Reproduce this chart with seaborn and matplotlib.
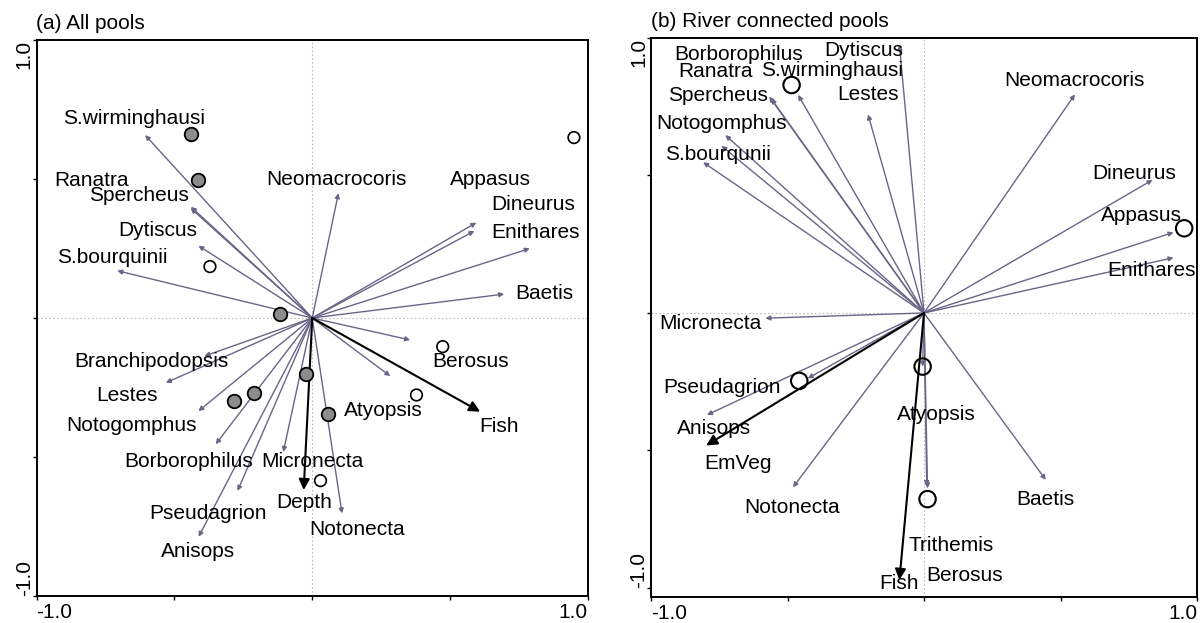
import matplotlib
matplotlib.use("Agg")
import matplotlib.pyplot as plt
import seaborn as sns
import pandas as pd

# ---------------- data: panel (a) All pools ----------------
a_species = ["S.wirminghausi", "Ranatra", "Spercheus", "Dytiscus", "S.bourquinii",
             "Neomacrocoris", "Appasus", "Dineurus", "Enithares", "Baetis",
             "Branchipodopsis", "Lestes", "Notogomphus", "Borborophilus", "Micronecta",
             "Pseudagrion", "Anisops", "Notonecta", "Atyopsis", "Berosus"]
a_sp_x = [-0.606, -0.44, -0.441, -0.413, -0.707,
          0.095, 0.595, 0.588, 0.789, 0.696,
          -0.391, -0.531, -0.413, -0.350, -0.105,
          -0.271, -0.412, 0.108, 0.283, 0.355]
a_sp_y = [0.658, 0.40, 0.395, 0.260, 0.170,
          0.449, 0.343, 0.313, 0.250, 0.086,
          -0.137, -0.233, -0.335, -0.454, -0.482,
          -0.622, -0.787, -0.703, -0.209, -0.079]
a_env = ["Depth", "Fish"]
a_env_x = [-0.031, 0.609]
a_env_y = [-0.619, -0.337]
a_site_x = [-0.441, -0.416, -0.118, -0.021, -0.213, -0.283, 0.058,
            -0.371, 0.949, 0.473, 0.378, 0.030]
a_site_y = [0.661, 0.496, 0.014, -0.201, -0.271, -0.299, -0.347,
            0.185, 0.649, -0.103, -0.277, -0.585]
a_site_type = ["filled"] * 7 + ["open"] * 5

# ---------------- data: panel (b) River connected pools ----------------
b_species = ["Dytiscus", "S.wirminghausi", "Spercheus", "Lestes", "Borborophilus",
             "Ranatra", "Notogomphus", "S.bourqunii", "Neomacrocoris", "Dineurus",
             "Appasus", "Enithares", "Micronecta", "Pseudagrion", "Anisops",
             "Notonecta", "Atyopsis", "Trithemis", "Berosus", "Baetis"]
b_sp_x = [-0.090, -0.461, -0.567, -0.205, -0.742,
          -0.560, -0.728, -0.809, 0.553, 0.837,
          0.914, 0.914, -0.581, -0.426, -0.795,
          -0.480, -0.005, 0.013, 0.010, 0.446]
b_sp_y = [0.975, 0.793, 0.787, 0.722, 0.608,
          0.780, 0.647, 0.548, 0.795, 0.484,
          0.293, 0.201, -0.019, -0.238, -0.371,
          -0.634, -0.195, -0.638, -0.630, -0.607]
b_env = ["EmVeg", "Fish"]
b_env_x = [-0.798, -0.090]
b_env_y = [-0.482, -0.971]
b_site_x = [-0.485, 0.953, -0.005, -0.457, 0.013]
b_site_y = [0.829, 0.308, -0.195, -0.247, -0.677]

# ---------------- label placement (layout) ----------------
a_lab_pos = {
    "S.wirminghausi": (-0.645, 0.718), "Ranatra": (-0.80, 0.496), "Spercheus": (-0.628, 0.442),
    "Dytiscus": (-0.562, 0.313), "S.bourquinii": (-0.724, 0.218), "Neomacrocoris": (0.089, 0.499),
    "Appasus": (0.648, 0.499), "Dineurus": (0.803, 0.41), "Enithares": (0.81, 0.308),
    "Baetis": (0.84, 0.089), "Branchipodopsis": (-0.585, -0.157), "Lestes": (-0.672, -0.277),
    "Notogomphus": (-0.656, -0.388), "Borborophilus": (-0.448, -0.517), "Micronecta": (-0.001, -0.517),
    "Pseudagrion": (-0.378, -0.705), "Anisops": (-0.413, -0.84), "Notonecta": (0.163, -0.759),
    "Atyopsis": (0.256, -0.333), "Berosus": (0.574, -0.157), "Depth": (-0.031, -0.664),
    "Fish": (0.678, -0.391)}
b_lab_pos = {
    "Dytiscus": (-0.219, 0.956), "S.wirminghausi": (-0.338, 0.88), "Spercheus": (-0.756, 0.79),
    "Lestes": (-0.206, 0.795), "Borborophilus": (-0.679, 0.941), "Ranatra": (-0.763, 0.877),
    "Notogomphus": (-0.742, 0.69), "S.bourqunii": (-0.756, 0.578), "Neomacrocoris": (0.552, 0.847),
    "Dineurus": (0.77, 0.508), "Appasus": (0.795, 0.354), "Enithares": (0.832, 0.154),
    "Micronecta": (-0.781, -0.04), "Pseudagrion": (-0.74, -0.27), "Anisops": (-0.769, -0.419),
    "Notonecta": (-0.483, -0.707), "Atyopsis": (0.044, -0.369), "Trithemis": (0.10, -0.847),
    "Berosus": (0.149, -0.956), "Baetis": (0.443, -0.68), "EmVeg": (-0.681, -0.549),
    "Fish": (-0.09, -0.985)}

sns.set_theme(style="white")
plt.rcParams["font.family"] = ["Liberation Sans", "DejaVu Sans"]
plt.rcParams["text.color"] = "black"
plt.rcParams["axes.labelcolor"] = "black"
plt.rcParams["xtick.color"] = "black"
plt.rcParams["ytick.color"] = "black"
plt.rcParams["axes.titlecolor"] = "black"

FS = 15
ARROW_C = "#6a6587"

fig = plt.figure(figsize=(12.03, 6.23), dpi=100)
W, H = 1203, 623
ax1 = fig.add_axes([36.5 / W, 1 - 596 / H, (588 - 36.5) / W, (596 - 40) / H])
ax2 = fig.add_axes([651 / W, 1 - 597 / H, (1197 - 651) / W, (597 - 38) / H])


def style_axes(ax, ylim, title):
    ax.set_xlim(-1, 1)
    ax.set_ylim(*ylim)
    ax.axhline(0, color="#bcbcbc", ls=(0, (1.5, 2)), lw=0.8, zorder=0)
    ax.axvline(0, color="#bcbcbc", ls=(0, (1.5, 2)), lw=0.8, zorder=0)
    for s in ax.spines.values():
        s.set_color("black")
        s.set_linewidth(1.4)
    ax.set_xticks([-1, -0.5, 0, 0.5, 1])
    ax.set_xticklabels(["-1.0", "", "", "", "1.0"])
    ax.set_yticks([-1, -0.5, 0, 0.5, 1])
    ax.set_yticklabels(["-1.0", "", "", "", "1.0"])
    ax.tick_params(axis="both", direction="out", length=3, width=1, color="black",
                   labelcolor="black", labelsize=FS, left=True, bottom=True)
    ax.tick_params(axis="x", pad=2)
    ax.tick_params(axis="y", pad=-1)
    xl = ax.get_xticklabels()
    xl[0].set_ha("left")
    xl[-1].set_ha("right")
    yl = ax.get_yticklabels()
    for lab in yl:
        lab.set_rotation(90)
    yl[0].set_va("bottom")
    yl[-1].set_va("top")
    ax.set_title(title, loc="left", fontsize=FS, pad=8, color="black")
    ax.set_xlabel("")
    ax.set_ylabel("")


def draw_arrows(ax, xs, ys, color, lw, ms):
    for x, y in zip(xs, ys):
        ax.annotate("", xy=(x, y), xytext=(0, 0),
                    arrowprops=dict(arrowstyle="-|>", color=color, lw=lw,
                                    mutation_scale=ms, shrinkA=0, shrinkB=0),
                    zorder=2)


def draw_labels(ax, pos):
    for name, (x, y) in pos.items():
        ax.text(x, y, name, ha="center", va="center", fontsize=FS, color="black", zorder=5)


# ---------- panel (a) ----------
style_axes(ax1, (-1, 1), "(a) All pools")
draw_arrows(ax1, a_sp_x, a_sp_y, ARROW_C, 1.0, 7)
draw_arrows(ax1, a_env_x, a_env_y, "black", 1.5, 16)
sites_a = pd.DataFrame({"x": a_site_x, "y": a_site_y, "type": a_site_type})
sns.scatterplot(data=sites_a[sites_a["type"] == "filled"], x="x", y="y", ax=ax1,
                color="#8c8c8c", edgecolor="black", linewidth=1.3, s=95, zorder=4, legend=False)
sns.scatterplot(data=sites_a[sites_a["type"] == "open"], x="x", y="y", ax=ax1,
                facecolor="none", edgecolor="black", linewidth=1.2, s=70, zorder=4, legend=False)
draw_labels(ax1, a_lab_pos)
ax1.set_xlabel("")
ax1.set_ylabel("")

# ---------- panel (b) ----------
style_axes(ax2, (-1.033, 1.0), "(b) River connected pools")
draw_arrows(ax2, b_sp_x, b_sp_y, ARROW_C, 1.0, 7)
draw_arrows(ax2, b_env_x, b_env_y, "black", 1.5, 16)
sites_b = pd.DataFrame({"x": b_site_x, "y": b_site_y})
sns.scatterplot(data=sites_b, x="x", y="y", ax=ax2,
                facecolor="none", edgecolor="black", linewidth=1.5, s=140, zorder=4, legend=False)
draw_labels(ax2, b_lab_pos)
ax2.set_xlabel("")
ax2.set_ylabel("")

fig.savefig("out.png", dpi=100)
